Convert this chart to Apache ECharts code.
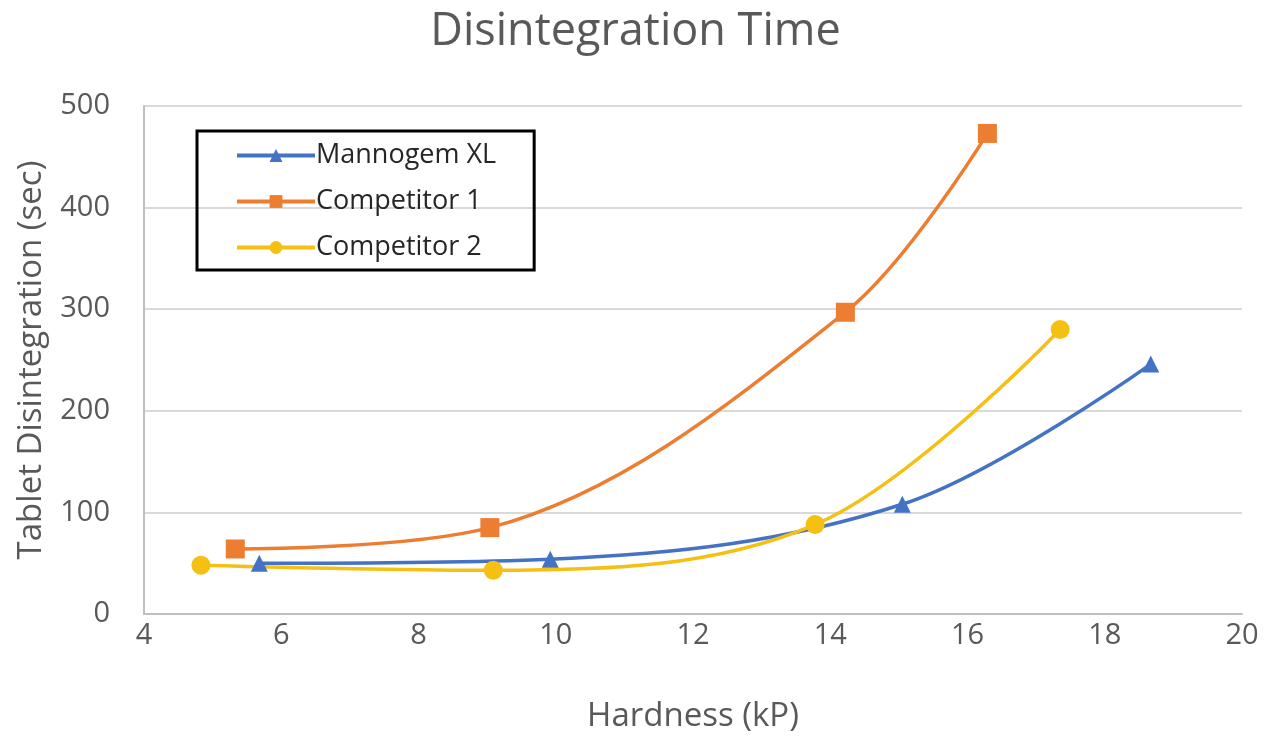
<!DOCTYPE html>
<html>
<head>
<meta charset="utf-8">
<script src="https://cdn.jsdelivr.net/npm/echarts@6/dist/echarts.min.js"></script>
<style>
  html, body { margin: 0; padding: 0; background: #fff; }
  #main { width: 1271px; height: 738px; }
</style>
</head>
<body>
<div id="main"></div>
<script>
// data: [hardness kP, disintegration sec]
var seriesNames = ['Mannogem XL', 'Competitor 1', 'Competitor 2']
var mannogemXL = [[5.68, 50], [9.92, 54], [15.05, 108], [18.67, 246]]
var competitor1 = [[5.33, 64], [9.04, 85], [14.22, 297], [16.29, 473]]
var competitor2 = [[4.83, 48], [9.09, 43], [13.78, 88], [17.35, 280]]
var xTicks = [4, 6, 8, 10, 12, 14, 16, 18, 20]
var yTicks = [0, 100, 200, 300, 400, 500]

var textColor = '#595959'
var fontName = '"Open Sans", Lato, sans-serif'

var myChart = echarts.init(document.getElementById('main'))

function makeSeries (name, data, color, symbol, size) {
  return {
    name: name,
    type: 'line',
    data: data,
    smooth: 0.35,
    symbol: symbol,
    symbolSize: size,
    lineStyle: { color: color, width: 3.5 },
    itemStyle: { color: color }
  }
}

var option = {
  backgroundColor: '#fff',
  animation: false,
  title: {
    text: 'Disintegration Time',
    left: 'center',
    top: 5,
    textStyle: { color: textColor, fontSize: 45, fontWeight: 'normal', fontFamily: fontName }
  },
  legend: {
    orient: 'vertical',
    left: 197,
    top: 131,
    data: seriesNames,
    borderColor: '#000',
    borderWidth: 3,
    padding: [11, 38, 9, 38],
    itemWidth: 78,
    itemHeight: 16,
    itemGap: 19,
    lineStyle: { width: 4 },
    textStyle: { color: '#262626', fontSize: 27, fontFamily: fontName, padding: [0, 0, 0, -4] }
  },
  grid: { left: 144, right: 29, top: 106, bottom: 122 },
  xAxis: {
    type: 'value',
    min: xTicks[0],
    max: xTicks[xTicks.length - 1],
    interval: 2,
    name: 'Hardness (kP)',
    nameLocation: 'middle',
    nameGap: 86,
    nameTextStyle: { color: textColor, fontSize: 33, fontFamily: fontName },
    axisLine: { lineStyle: { color: '#bfbfbf', width: 2 } },
    axisTick: { show: false },
    splitLine: { show: false },
    axisLabel: { color: textColor, fontSize: 29, fontFamily: fontName, margin: 7 }
  },
  yAxis: {
    type: 'value',
    min: yTicks[0],
    max: yTicks[yTicks.length - 1],
    interval: 100,
    name: 'Tablet Disintegration (sec)',
    nameLocation: 'middle',
    nameGap: 96,
    nameTextStyle: { color: textColor, fontSize: 33, fontFamily: fontName },
    axisLine: { show: true, lineStyle: { color: '#bfbfbf', width: 2 } },
    axisTick: { show: false },
    splitLine: { lineStyle: { color: '#d9d9d9', width: 2 } },
    axisLabel: { color: textColor, fontSize: 29, fontFamily: fontName, margin: 34 }
  },
  series: [
    makeSeries(seriesNames[0], mannogemXL, '#4472C4', 'triangle', 17),
    makeSeries(seriesNames[1], competitor1, '#ED7D31', 'rect', 19),
    makeSeries(seriesNames[2], competitor2, '#F5C012', 'circle', 19)
  ]
}
myChart.setOption(option)
</script>
</body>
</html>
